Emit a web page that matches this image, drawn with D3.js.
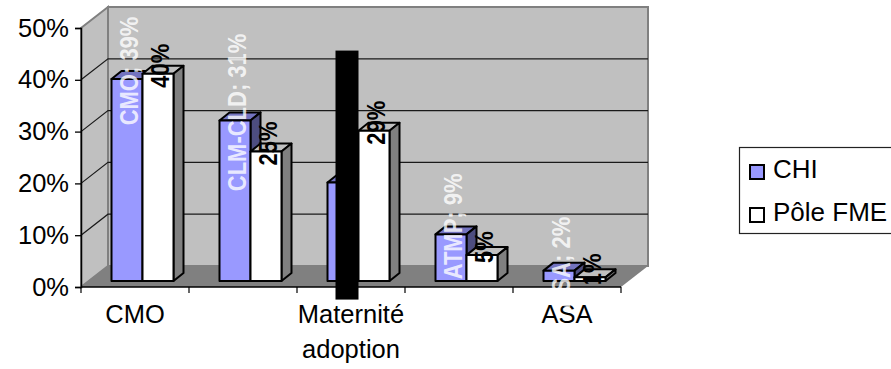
<!DOCTYPE html>
<html>
<head>
<meta charset="utf-8">
<script src="https://cdn.jsdelivr.net/npm/d3@7/dist/d3.min.js"></script>
<style>
html,body{margin:0;padding:0;background:#fff;overflow:hidden}
svg{display:block}
text{font-family:"Liberation Sans",Arial,sans-serif}
</style>
</head>
<body>
<svg id="chart" width="891" height="369"></svg>
<script>
// Absence categories and the share recorded for each unit
const categories = ["CMO", "CLM-CLD", "Maternité adoption", "ATMP", "ASA"];
const seriesNames = ["CHI", "Pôle FME"];
const chiValues = [39, 31, 19, 9, 2];
const poleValues = [40, 25, 29, 5, 0.7];
const chiLabels = ["CMO; 39%", "CLM-CLD; 31%", null, "ATMP; 9%", "ASA; 2%"];
const poleLabels = ["40%", "25%", "29%", "5%", "1%"];
const yTicks = [0, 10, 20, 30, 40, 50];
const xTickLabels = {"CMO": ["CMO"], "Maternité adoption": ["Maternité", "adoption"], "ASA": ["ASA"]};

// Oblique projection of the chart box
const wallDx = 27, wallDy = -21;
const barDx = 10, barDy = -8, barLift = -6;

const svg = d3.select("#chart");
const x = d3.scaleBand().domain(categories).range([81, 621]);
const y = d3.scaleLinear().domain([0, 50]).range([287, 28]);
const sub = d3.scaleBand().domain(seriesNames).range([30.5, 92.5]);
const line = d3.line();

// Walls and floor
const [x0, x1] = x.range();
const [y0, y1] = y.range();
svg.append("path").attr("fill", "#c0c0c0").attr("stroke", "#808080").attr("stroke-width", 2)
  .attr("d", line([[x0, y1], [x0 + wallDx, y1 + wallDy], [x0 + wallDx, y0 + wallDy], [x0, y0]]) + "Z");
svg.append("path").attr("fill", "#c0c0c0").attr("stroke", "#808080").attr("stroke-width", 2)
  .attr("d", line([[x0 + wallDx, y1 + wallDy], [x1 + wallDx, y1 + wallDy], [x1 + wallDx, y0 + wallDy], [x0 + wallDx, y0 + wallDy]]) + "Z");

// Gridlines run across the side wall and the back wall
yTicks.filter(d => d > 0 && d < 50).forEach(d => {
  svg.append("path").attr("fill", "none").attr("stroke", "#1a1a1a").attr("stroke-width", 1.2)
    .attr("d", line([[x0, y(d)], [x0 + wallDx, y(d) + wallDy], [x1 + wallDx, y(d) + wallDy]]));
});
svg.append("path").attr("fill", "#808080")
  .attr("d", line([[x0, y0], [x0 + wallDx, y0 + wallDy], [x1 + wallDx, y0 + wallDy], [x1, y0]]) + "Z");

// Axes
const yAxis = d3.axisLeft(y).tickValues(yTicks).tickFormat(d => d + "%").tickSize(6).tickPadding(6);
const gy = svg.append("g").attr("transform", `translate(${x0},0)`).call(yAxis);
gy.select(".domain").attr("stroke", "#000").attr("stroke-width", 1.5);
gy.selectAll(".tick line").attr("stroke", "#000").attr("stroke-width", 1.3);
gy.selectAll("text").attr("font-size", 25.5).attr("fill", "#000").attr("font-family", '"Liberation Sans"');

svg.append("line").attr("x1", x0).attr("x2", x1).attr("y1", y0).attr("y2", y0)
  .attr("stroke", "#000").attr("stroke-width", 1.5);
x.domain().concat("end").forEach((c, i) => {
  const px = x0 + i * x.bandwidth();
  svg.append("line").attr("x1", px).attr("x2", px).attr("y1", y0).attr("y2", y0 + 6)
    .attr("stroke", "#000").attr("stroke-width", 1.2);
});
Object.entries(xTickLabels).forEach(([c, lines]) => {
  lines.forEach((t, i) => {
    svg.append("text").attr("x", x(c) + x.bandwidth() / 2).attr("y", 323 + i * 35)
      .attr("text-anchor", "middle").attr("font-size", 25.5).attr("fill", "#000").text(t);
  });
});

// Three-faced columns
const faces = {
  "CHI": {front: "#9999ff", top: "#7373bf", side: "#4d4d80"},
  "Pôle FME": {front: "#ffffff", top: "#c0c0c0", side: "#808080"}
};
const base = y(0) + barLift;
const columns = [["CHI", chiValues], ["Pôle FME", poleValues]];
columns.forEach(([name, values]) => {
  const g = svg.append("g").attr("stroke", "#000").attr("stroke-width", 2).attr("stroke-linejoin", "round");
  categories.forEach((c, i) => {
    const left = x(c) + sub(name), right = left + sub.bandwidth();
    const top = y(values[i]) + barLift;
    g.append("path").attr("fill", faces[name].top)
      .attr("d", line([[left, top], [left + barDx, top + barDy], [right + barDx, top + barDy], [right, top]]) + "Z");
    g.append("path").attr("fill", faces[name].side)
      .attr("d", line([[right, top], [right + barDx, top + barDy], [right + barDx, base + barDy], [right, base]]) + "Z");
    g.append("path").attr("fill", faces[name].front)
      .attr("d", line([[left, top], [right, top], [right, base], [left, base]]) + "Z");
  });
});

// Rotated value labels centred just above each column, with taller glyphs
function valueLabel(text, name, i, fill, opacity) {
  const c = categories[i];
  const values = name === "CHI" ? chiValues : poleValues;
  const cx = x(c) + sub(name) + sub.bandwidth() / 2 + 2.5;
  const cy = y(values[i]) + barLift - 8;
  svg.append("text")
    .attr("transform", `translate(${cx},${cy}) rotate(-90) scale(1,1.14)`)
    .attr("text-anchor", "middle").attr("dy", "0.35em")
    .attr("font-size", 22).attr("font-weight", "bold")
    .attr("fill", fill).attr("fill-opacity", opacity).text(text);
}
chiLabels.forEach((t, i) => { if (t) valueLabel(t, "CHI", i, "#fff", 0.8); });
poleLabels.forEach((t, i) => valueLabel(t, "Pôle FME", i, "#000", 1));

// Masking band over the third category's CHI label
const maskIndex = categories.indexOf("Maternité adoption");
const maskCx = x(categories[maskIndex]) + sub("CHI") + sub.bandwidth() / 2 + 4;
const maskCy = y(chiValues[maskIndex]) + barLift - 8;
svg.append("rect").attr("x", maskCx - 11.5).attr("width", 23)
  .attr("y", maskCy - 124).attr("height", 249).attr("fill", "#000");

// Legend, running off the right edge
const legend = svg.append("g");
legend.append("rect").attr("x", 739.5).attr("y", 147.5).attr("width", 170).attr("height", 86)
  .attr("fill", "#fff").attr("stroke", "#222").attr("stroke-width", 1.2);
seriesNames.forEach((name, i) => {
  legend.append("rect").attr("x", 750).attr("y", 165 + i * 43).attr("width", 14).attr("height", 14)
    .attr("fill", faces[name].front).attr("stroke", "#000").attr("stroke-width", 2);
  legend.append("text").attr("x", 773).attr("y", 178 + i * 43)
    .attr("font-size", 26).attr("fill", "#000").text(name);
});
</script>
</body>
</html>
